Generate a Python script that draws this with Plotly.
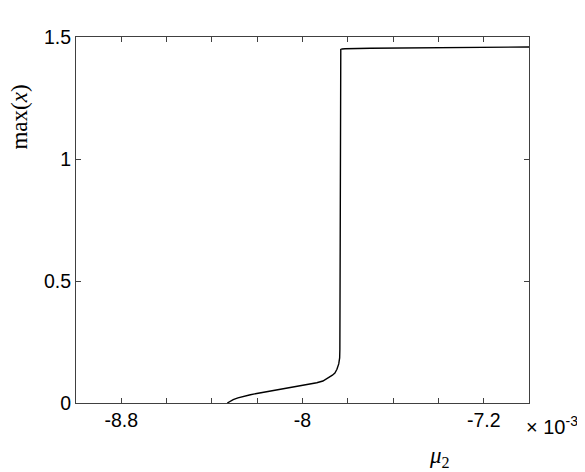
import plotly.graph_objects as go

# branch of max(x) vs mu2
mu2 = [-8.332e-3, -8.320e-3, -8.306e-3, -8.285e-3, -8.261e-3, -8.230e-3, -8.202e-3,
       -8.160e-3, -8.114e-3, -8.070e-3, -8.026e-3, -7.980e-3, -7.937e-3, -7.910e-3,
       -7.893e-3, -7.880e-3, -7.868e-3, -7.857e-3, -7.848e-3, -7.840e-3, -7.836e-3,
       -7.835e-3, -7.834e-3, -7.834e-3, -7.833e-3, -7.831e-3, -7.825e-3, -7.812e-3,
       -7.700e-3, -7.570e-3, -7.400e-3, -7.216e-3, -7.000e-3]
max_x = [0.0, 0.007, 0.014, 0.021, 0.028, 0.034, 0.039,
         0.046, 0.052, 0.059, 0.066, 0.074, 0.083, 0.090,
         0.099, 0.106, 0.114, 0.123, 0.138, 0.160, 0.185,
         0.22, 0.5, 1.40, 1.440, 1.449, 1.451, 1.452,
         1.454, 1.455, 1.457, 1.458, 1.459]

x_tickvals = [-9.0e-3, -8.8e-3, -8.6e-3, -8.4e-3, -8.2e-3, -8.0e-3, -7.8e-3,
              -7.6e-3, -7.4e-3, -7.2e-3, -7.0e-3]
x_ticktext = ["", "-8.8", "", "", "", "-8", "", "", "", "-7.2", ""]
y_tickvals = [0, 0.5, 1, 1.5]
y_ticktext = ["0", "0.5", "1", "1.5"]

axcol = "#404040"
tickfont = dict(family="Liberation Sans, Arial, sans-serif", size=19.5, color="black")

fig = go.Figure()
fig.add_trace(go.Scatter(x=mu2, y=max_x, mode="lines",
                         line=dict(color="black", width=1.4), showlegend=False))

fig.update_xaxes(range=[-9.0e-3, -7.0e-3], tickvals=x_tickvals, ticktext=x_ticktext,
                 ticks="inside", ticklen=5, tickcolor=axcol, tickwidth=1,
                 showline=True, linecolor=axcol, linewidth=1, mirror="ticks",
                 showgrid=False, zeroline=False, tickfont=tickfont)
fig.update_yaxes(range=[0, 1.5], tickvals=y_tickvals, ticktext=y_ticktext,
                 ticks="inside", ticklen=5, tickcolor=axcol, tickwidth=1,
                 showline=True, linecolor=axcol, linewidth=1, mirror="ticks",
                 showgrid=False, zeroline=False, tickfont=tickfont)

fig.add_annotation(text="max(<i>x</i>)", xref="paper", yref="paper",
                   x=-0.1236, y=0.78, xanchor="center", yanchor="middle",
                   textangle=-90, showarrow=False,
                   font=dict(family="Liberation Serif, serif", size=23, color="black"))
fig.add_annotation(text="<i>μ</i><sub>2</sub>", xref="paper", yref="paper",
                   x=0.8035, y=-0.1487, xanchor="center", yanchor="middle",
                   showarrow=False,
                   font=dict(family="Liberation Serif, serif", size=23, color="black"))
fig.add_annotation(text="× 10<sup>-3</sup>", xref="paper", yref="paper",
                   x=0.99, y=-0.1, xanchor="left", yanchor="bottom",
                   showarrow=False,
                   font=dict(family="Liberation Sans, Arial, sans-serif", size=20, color="black"))

# page body has an 8px margin, so the figure is drawn 8px smaller than the window
fig.update_layout(width=577, height=464, plot_bgcolor="white", paper_bgcolor="white",
                  margin=dict(l=68, r=56, t=29, b=68.5))

fig.write_html("out.html")
